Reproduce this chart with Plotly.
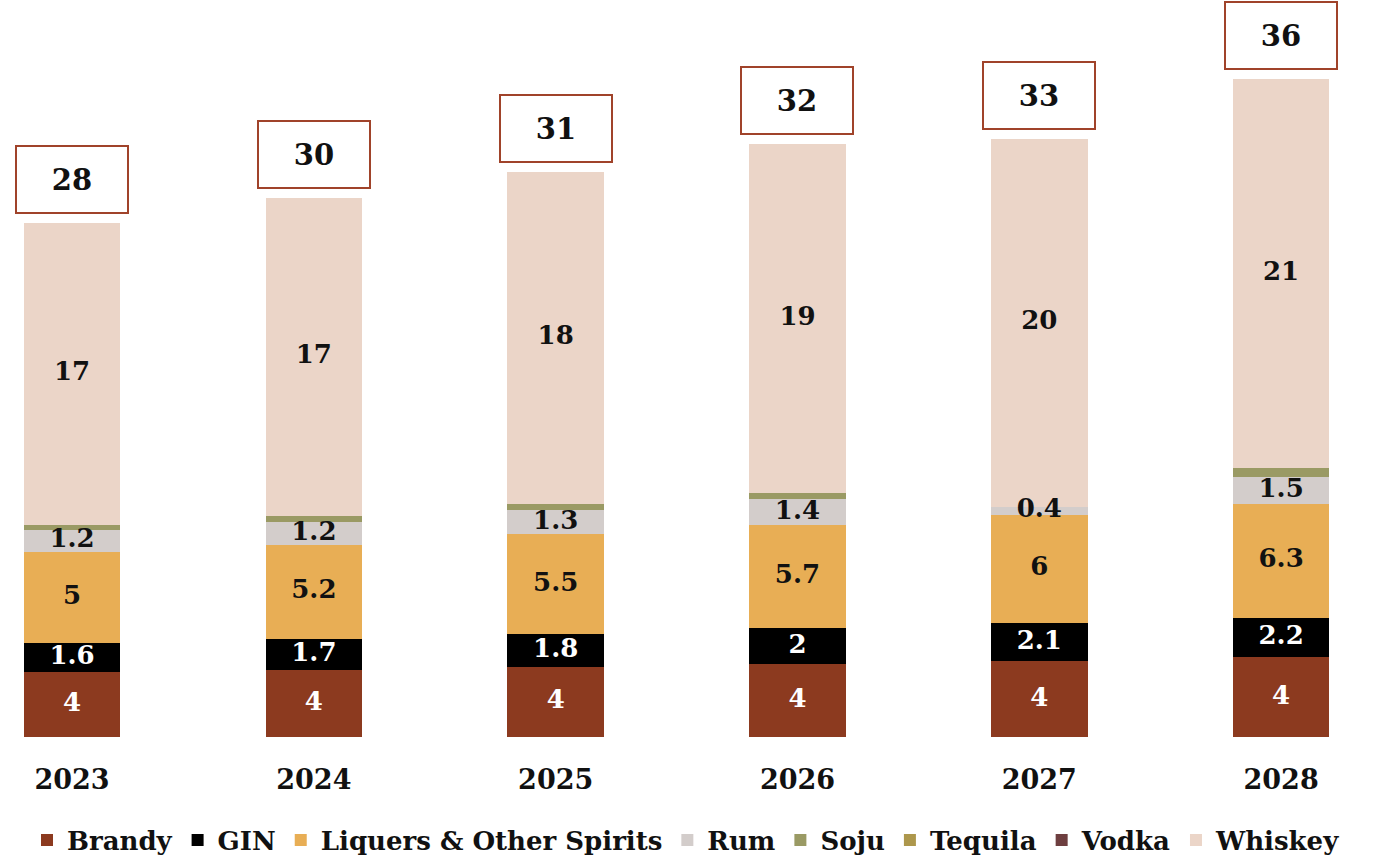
import plotly.graph_objects as go

# Spirits market by category, stacked by year
years = ["2023", "2024", "2025", "2026", "2027", "2028"]

brandy = [3.58, 3.70, 3.86, 4.00, 4.15, 4.36]
gin = [1.58, 1.68, 1.77, 1.97, 2.08, 2.16]
liquers = [4.98, 5.17, 5.48, 5.66, 5.96, 6.26]
rum = [1.22, 1.21, 1.32, 1.39, 0.42, 1.50]
soju = [0.27, 0.38, 0.37, 0.36, 0.0, 0.48]
tequila = [0.0, 0.0, 0.0, 0.0, 0.0, 0.0]
vodka = [0.0, 0.0, 0.0, 0.0, 0.0, 0.0]
whiskey = [16.55, 17.40, 18.19, 19.10, 20.18, 21.32]

# name, values, colour, decimals shown in the label (None = no label), label colour
series = [
    ("Brandy", brandy, "#8c3a1f", 0, "white"),
    ("GIN", gin, "#000000", 1, "white"),
    ("Liquers & Other Spirits", liquers, "#e8ae55", 1, "#111111"),
    ("Rum", rum, "#d3cdcb", 1, "#111111"),
    ("Soju", soju, "#9a9a64", None, "#111111"),
    ("Tequila", tequila, "#ad974c", None, "#111111"),
    ("Vodka", vodka, "#6e3f40", None, "#111111"),
    ("Whiskey", whiskey, "#ebd5c8", 0, "#111111"),
]

FONT = "DejaVu Serif"


def fmt(v, d):
    s = f"{v:.{d}f}"
    if "." in s:
        s = s.rstrip("0").rstrip(".")
    return s


fig = go.Figure()
for name, vals, color, dec, tcol in series:
    fig.add_trace(go.Bar(
        name=name,
        x=years,
        y=vals,
        marker=dict(color=color, line=dict(width=0)),
        width=0.4,
        hoverinfo="skip",
    ))

# segment labels drawn above all bars, at the middle of each segment
base = [0.0] * len(years)
for name, vals, color, dec, tcol in series:
    mids = [b + v / 2 for b, v in zip(base, vals)]
    base = [b + v for b, v in zip(base, vals)]
    if dec is None:
        continue
    fig.add_trace(go.Scatter(
        x=years,
        y=mids,
        mode="text",
        text=[fmt(v, dec) for v in vals],
        textposition="middle center",
        textfont=dict(family=FONT, size=26, color=tcol, weight="bold"),
        showlegend=False,
        hoverinfo="skip",
        cliponaxis=False,
    ))

totals = base
for i, tot in enumerate(totals):
    fig.add_annotation(
        xref="x", yref="y",
        x=i, y=tot, yanchor="bottom", yshift=9,
        text=f"<b>{round(tot):d}</b>",
        showarrow=False,
        font=dict(family=FONT, size=29, color="#111111"),
        bgcolor="white",
        bordercolor="#a0432a",
        borderwidth=2,
        borderpad=0,
        width=110,
        height=65,
    )

fig.update_layout(
    barmode="stack",
    width=1373,
    height=858,
    margin=dict(l=0, r=0, t=0, b=121, autoexpand=False),
    paper_bgcolor="white",
    plot_bgcolor="white",
    showlegend=True,
    legend=dict(
        orientation="h",
        xref="container", yref="container",
        x=0.5, xanchor="center",
        y=0.021, yanchor="middle",
        font=dict(family=FONT, size=26, color="#111111", weight="bold"),
        traceorder="normal",
        itemclick=False,
    ),
    xaxis=dict(
        type="category",
        range=[-0.298, 5.38],
        showgrid=False,
        showline=False,
        zeroline=False,
        ticks="",
        ticklabelstandoff=24,
        tickfont=dict(family=FONT, size=27, color="#111111", weight="bold"),
    ),
    yaxis=dict(
        range=[0, 40.4],
        visible=False,
        showgrid=False,
        zeroline=False,
    ),
)

fig.write_html("out.html")
